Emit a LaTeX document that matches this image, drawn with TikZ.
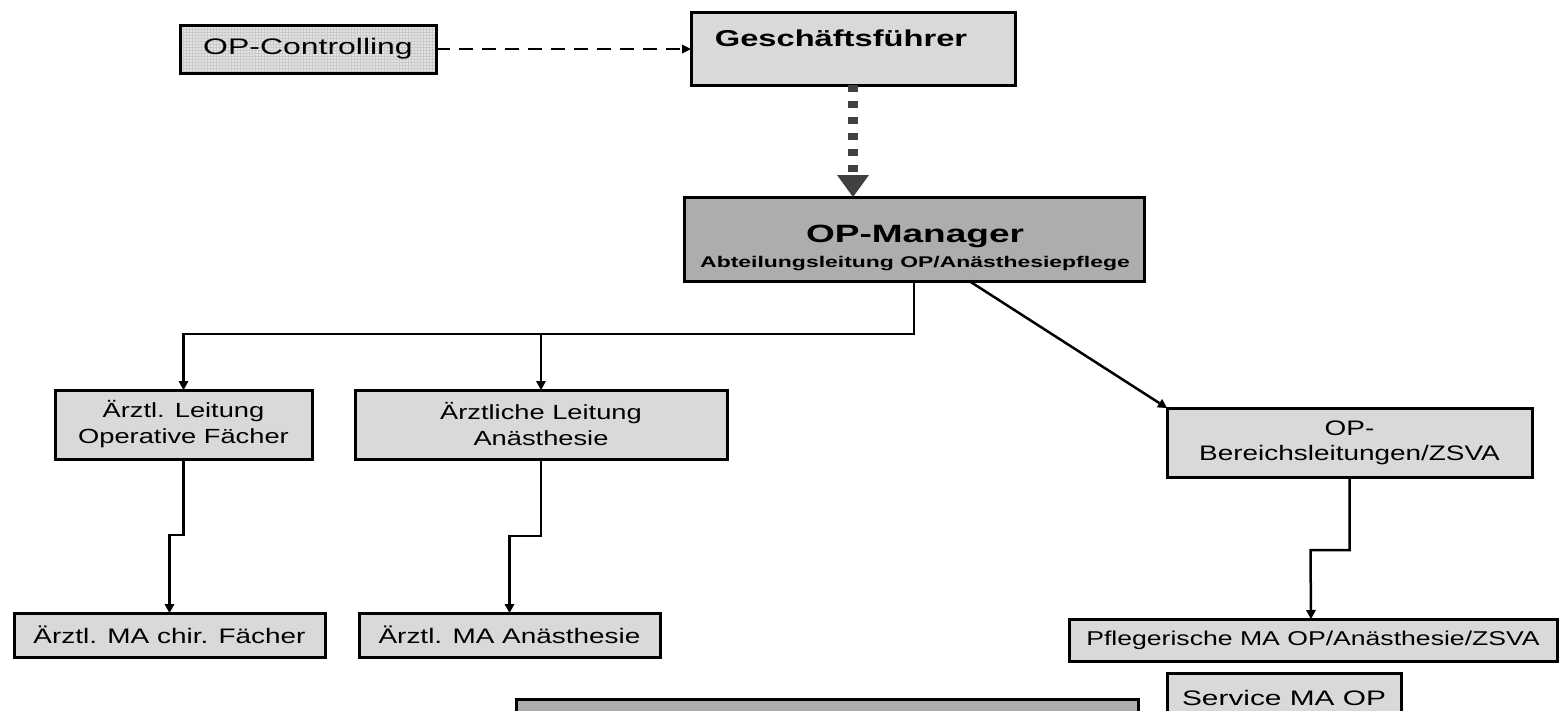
\documentclass[tikz,border=0pt]{standalone}
\usepackage{fontspec}
\setmainfont{Liberation Sans}
\newfontfamily\stR{Liberation Sans}[FakeStretch=1.33]
\newfontfamily\stW{Liberation Sans}[FakeStretch=1.42]
\newfontfamily\stX{Liberation Sans}[FakeStretch=1.48]
\usetikzlibrary{arrows.meta,patterns,calc}
\definecolor{boxfill}{HTML}{D9D9D9}
\definecolor{darkfill}{HTML}{ADADAD}
\definecolor{gridbg}{HTML}{E3E3E3}
\definecolor{gridln}{HTML}{CBCBCB}
\definecolor{dotcol}{HTML}{404040}
\tikzset{
  orgbox/.style={draw=black, line width=3pt, fill=boxfill, inner sep=0pt, outer sep=0pt, align=center},
  darkbox/.style={orgbox, fill=darkfill},
  gridbox/.style={orgbox, fill=gridbg, postaction={pattern=grid, pattern color=gridln}, postaction={draw=black, line width=3pt}},
  regtxt/.style={font=\stR\fontsize{20.5}{26}\selectfont},
  onetxt/.style={font=\stR\fontsize{21}{25}\selectfont},
  conn/.style={draw=black, line width=2.5pt, -{Triangle[width=10pt,length=9pt,line width=0pt]}},
  dashconn/.style={draw=black, line width=2pt, dash pattern=on 14pt off 9pt, -{Triangle[width=9pt,length=9pt,line width=0pt]}},
  dotconn/.style={draw=dotcol, line width=10pt, dash pattern=on 7pt off 9pt, -{Triangle[width=32pt,length=22pt,line width=0pt]}},
}
\begin{document}
\begin{tikzpicture}[x=1pt,y=-1pt]
\useasboundingbox (0,0) rectangle (1559,710);
\clip (0,0) rectangle (1559,710);

% boxes
\node[gridbox, minimum width=256pt, minimum height=48pt] (ctrl) at (308,49)
  {\stW\fontsize{22.5}{28}\selectfont OP-Controlling};
\node[orgbox, minimum width=324pt, minimum height=73pt] (gf) at (853,48.5) {};
\node[anchor=base, inner sep=0pt, font=\stW\fontsize{23}{28}\selectfont\bfseries] (gft) at (841,46) {Geschäftsführer};

\node[darkbox, minimum width=460pt, minimum height=84pt] (opm) at (914,239) {};
\node[anchor=base, inner sep=0pt, font=\stX\fontsize{25}{30}\selectfont\bfseries] (opmt1) at (915,242) {OP-Manager};
\node[anchor=base, inner sep=0pt, font=\stX\fontsize{15.5}{18}\selectfont\bfseries] (opmt2) at (915,267) {Abteilungsleitung OP/Anästhesiepflege};

\node[orgbox, regtxt, minimum width=257pt, minimum height=69pt] (al1) at (183.5,424.5)
  {Ärztl. Leitung\\Operative Fächer};
\node[orgbox, regtxt, minimum width=372pt, minimum height=69pt] (al2) at (541,424.5)
  {Ärztliche Leitung\\Anästhesie};
\node[orgbox, onetxt, minimum width=365pt, minimum height=69pt] (bl) at (1349.5,442.5)
  {OP-\\Bereichsleitungen/ZSVA};

\node[orgbox, onetxt, minimum width=311pt, minimum height=44pt] (ma1) at (169.5,635)
  {Ärztl. MA chir. Fächer};
\node[orgbox, onetxt, minimum width=301pt, minimum height=44pt] (ma2) at (509.5,635)
  {Ärztl. MA Anästhesie};
\node[orgbox, font=\stR\fontsize{20}{25}\selectfont, minimum width=488pt, minimum height=42pt] (pf) at (1313,640)
  {Pflegerische MA OP/Anästhesie/ZSVA};
\node[orgbox, font=\stW\fontsize{21}{25}\selectfont, minimum width=234pt, minimum height=50pt] (svc) at (1284,698)
  {Service MA OP};
\node[darkbox, minimum width=622pt, minimum height=42pt] (big) at (827,720) {};

% connectors
\draw[dashconn] (ctrl.east) -- (ctrl.east -| gf.west);
\draw[dotconn] (gf.south) -- (gf.south |- opm.north);
\draw[conn] (opm.south) -- ++(0,53) -| (al1.north);
\draw[conn] (opm.south) -- ++(0,53) -| (al2.north);
\draw[conn] ($(opm.south west)!0.62!(opm.south east)$) -- (bl.north west);
\draw[conn] (al1.south) -- ++(0,76) -| (ma1.north);
\draw[conn] (al2.south) -- ++(0,77) -| (ma2.north);
\draw[conn] (bl.south) -- ++(0,73) -- ++(-39,0) -- (pf.north -| 1311,0);
\end{tikzpicture}
\end{document}
